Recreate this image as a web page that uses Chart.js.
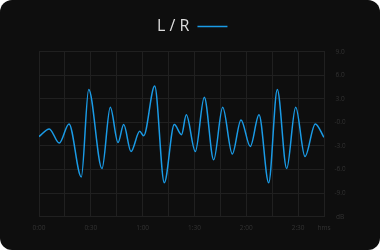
<!DOCTYPE html>
<html>
<head>
<meta charset="utf-8">
<script src="https://cdn.jsdelivr.net/npm/chart.js@4/dist/chart.umd.min.js"></script>
<style>
  html, body { margin: 0; padding: 0; background: #ffffff; }
  #card { width: 380px; height: 250px; border-radius: 12px; background: #0e0e0e; overflow: hidden; position: relative; }
  canvas { display: block; }
</style>
</head>
<body>
<div id="card"><canvas id="c" width="380" height="250"></canvas></div>
<script>
// Time positions in seconds and levels in dB
const timeSec = [0, 5.96, 11.75, 17.37, 24.49, 28.77, 36.47, 41.28, 45.74, 49.04, 53.26, 58.30, 60.62, 66.98, 72.54, 78.33, 82.5, 85.28, 90.49, 95.70, 101.14, 106.35, 111.91, 116.94, 122.33, 127.37, 132.98, 137.96, 143.40, 148.61, 154.0, 159.96, 165];
const levelDb = [-1.8, -0.83, -2.63, -0.19, -6.94, 4.20, -5.88, 1.93, -2.55, -0.28, -3.70, -1.14, -1.69, 4.62, -7.67, -0.28, -1.56, 0.96, -3.70, 3.21, -4.76, 1.93, -4.03, 0.32, -3.06, 0.96, -7.67, 4.20, -5.88, 1.93, -4.34, -0.19, -1.9];
const seriesName = 'L / R';
// Tick labels
const xTickLabels = ['0:00', '', '0:30', '', '1:00', '', '1:30', '', '2:00', '', '2:30', 'hms'];
const yTickLabels = ['dB', '-9.0', '-6.0', '-3.0', '-0.0', '3.0', '6.0', '9.0']; // bottom to top

const points = timeSec.map((t, i) => ({ x: t, y: levelDb[i] }));
const tickFont = { family: 'Open Sans', size: 6.5 };
const tickColor = '#333333';
const gridColor = '#202020';

const legendGap = {
  id: 'legendGap',
  beforeInit(chart) {
    const origFit = chart.legend.fit;
    chart.legend.fit = function () {
      origFit.call(this);
      this.height += 7.2;
    };
  }
};

new Chart(document.getElementById('c'), {
  type: 'line',
  data: {
    datasets: [{
      label: seriesName,
      data: points,
      borderColor: '#1a9be6',
      backgroundColor: '#1a9be6',
      borderWidth: 1.5,
      pointRadius: 0,
      pointHoverRadius: 0,
      cubicInterpolationMode: 'monotone',
      fill: false
    }]
  },
  plugins: [legendGap],
  options: {
    responsive: false,
    animation: false,
    layout: { padding: { top: 3.3, left: 39, right: 34.5, bottom: 9.5 } },
    plugins: {
      tooltip: { enabled: false },
      legend: {
        display: true,
        position: 'top',
        rtl: true,
        textDirection: 'ltr',
        labels: {
          usePointStyle: true,
          pointStyle: 'line',
          pointStyleWidth: 30,
          color: '#dcdcdc',
          padding: 15.2,
          font: { family: 'Open Sans', size: 16 }
        }
      }
    },
    scales: {
      x: {
        type: 'linear',
        min: 0,
        max: 165,
        afterBuildTicks: (s) => { s.ticks = xTickLabels.map((_, i) => ({ value: i * 15 })); },
        ticks: {
          autoSkip: false,
          maxRotation: 0,
          padding: 8,
          color: tickColor,
          font: tickFont,
          callback: (v, i) => xTickLabels[i]
        },
        grid: { color: gridColor, drawTicks: false, lineWidth: 1 },
        border: { color: gridColor }
      },
      y: {
        type: 'linear',
        position: 'right',
        min: -12,
        max: 9,
        afterBuildTicks: (s) => { s.ticks = yTickLabels.map((_, i) => ({ value: -12 + i * 3 })); },
        afterFit: (s) => { s.width = 21.5; },
        ticks: {
          autoSkip: false,
          padding: 10.5,
          crossAlign: 'center',
          color: tickColor,
          font: tickFont,
          callback: (v, i) => yTickLabels[i]
        },
        grid: { color: gridColor, drawTicks: false, lineWidth: 1 },
        border: { color: gridColor }
      }
    }
  }
});
</script>
</body>
</html>
